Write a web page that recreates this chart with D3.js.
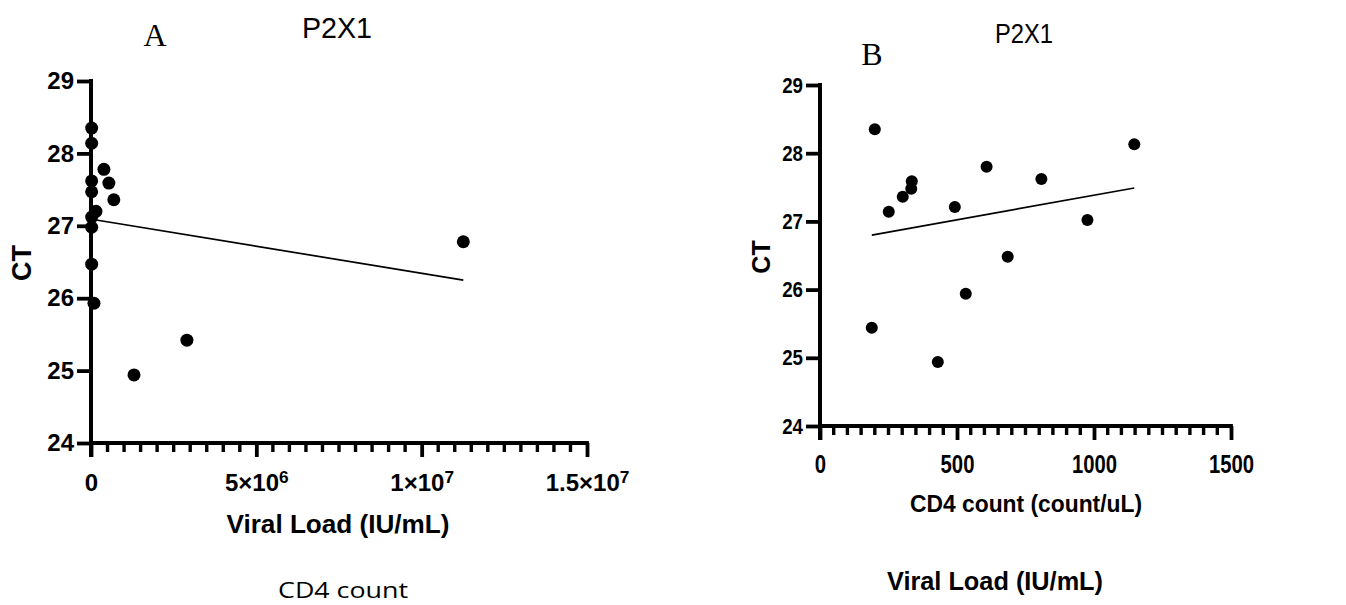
<!DOCTYPE html>
<html><head><meta charset="utf-8">
<script src="https://cdn.jsdelivr.net/npm/d3@7"></script>
<style>
body{margin:0;background:#fff;}
svg{display:block;}
</style></head>
<body>
<svg id="chart" width="1346" height="605"></svg>
<script>
// ---- Data ----
const viralLoadA = [2e4, 2e4, 3.9e5, 2e4, 5.4e5, 2e4, 6.9e5, 1.5e5, 2e4, 2e4, 2e4, 9e4, 1.3e6, 2.9e6, 1.126e7];
const ctA        = [28.35, 28.14, 27.78, 27.62, 27.59, 27.47, 27.36, 27.2, 27.12, 26.98, 26.47, 25.93, 24.94, 25.42, 26.78];
const fitAX = [2e4, 1.126e7];
const fitAY = [27.09, 26.25];
const xTicksA = [0, 5e6, 1e7, 1.5e7];
const xTickLabelsA = ["0", "5×10|6", "1×10|7", "1.5×10|7"];

const cd4B  = [200, 1147, 608, 808, 335, 333, 302, 251, 492, 976, 685, 532, 189, 430];
const ctB   = [28.35, 28.13, 27.8, 27.62, 27.59, 27.48, 27.36, 27.14, 27.21, 27.02, 26.48, 25.94, 25.44, 24.94];
const fitBX = [189, 1147];
const fitBY = [26.8, 27.49];
const xTicksB = [0, 500, 1000, 1500];
const xTickLabelsB = ["0", "500", "1000", "1500"];

const yTicks = [24, 25, 26, 27, 28, 29];

const svg = d3.select("#chart");
const BOLD = "'Liberation Sans', Arial, Helvetica, sans-serif";

function panel(cfg) {
  const g = svg.append("g");
  const x = d3.scaleLinear().domain(cfg.xDomain).range(cfg.xRange);
  const y = d3.scaleLinear().domain([24, 29]).range(cfg.yRange);
  const x0 = cfg.xRange[0], y0 = cfg.yRange[0];
  const AX_W = 4, TICK_W = 3.8, MINOR_W = 3.4;

  // minor x ticks (drawn from the scale)
  const nMinor = Math.round((cfg.xDomain[1] - cfg.xDomain[0]) / cfg.minorStep);
  const minor = d3.range(0, nMinor + 1).map(i => cfg.xDomain[0] + i * cfg.minorStep)
    .filter(v => !cfg.xTicks.some(t => Math.abs(t - v) < cfg.minorStep / 10));
  g.append("g").selectAll("line").data(minor).enter().append("line")
    .attr("x1", d => x(d)).attr("x2", d => x(d))
    .attr("y1", y0).attr("y2", y0 + cfg.minorLen)
    .attr("stroke", "#000").attr("stroke-width", MINOR_W);

  // major x axis
  const xa = g.append("g").attr("transform", `translate(0,${y0})`)
    .call(d3.axisBottom(x).tickValues(cfg.xTicks).tickSize(cfg.majorLen).tickSizeOuter(0).tickPadding(cfg.xPad).tickFormat(""));
  xa.select(".domain").attr("stroke", "#000").attr("stroke-width", AX_W)
    .attr("d", `M${x0 - 2},0H${cfg.xRange[1] + 1.9}`);
  xa.selectAll(".tick line").attr("stroke", "#000").attr("stroke-width", TICK_W);
  xa.selectAll(".tick text").each(function(d, i) {
    const t = d3.select(this)
      .attr("font-family", cfg.tickFont).attr("font-weight", "bold")
      .attr("font-size", cfg.xTickSize).attr("fill", "#000");
    const parts = cfg.xLabels[i].split("|");
    t.append("tspan").text(parts[0]);
    if (parts[1]) t.append("tspan").attr("dy", "-0.45em").attr("font-size", cfg.xTickSize * 0.72).text(parts[1]);
    if (cfg.xTickScale) t.attr("transform", `scale(${cfg.xTickScale},1)`);
  });

  // y axis
  const ya = g.append("g").attr("transform", `translate(${x0},0)`)
    .call(d3.axisLeft(y).tickValues(yTicks).tickSize(cfg.majorLen).tickSizeOuter(0).tickPadding(3).tickFormat(d3.format("d")));
  ya.select(".domain").attr("stroke", "#000").attr("stroke-width", AX_W)
    .attr("d", `M0,${cfg.yRange[1] - 1.9}V${y0 + cfg.majorLen}`);
  ya.selectAll(".tick line").attr("stroke", "#000").attr("stroke-width", TICK_W);
  ya.selectAll("text").attr("font-family", cfg.tickFont).attr("font-weight", "bold")
    .attr("font-size", cfg.yTickSize).attr("fill", "#000")
    .attr("transform", cfg.yTickScale ? `translate(${-cfg.majorLen - 3},0) scale(${cfg.yTickScale},1) translate(${cfg.majorLen + 3},0)` : null);

  // regression line
  const lineData = cfg.fitX.map((v, i) => [v, cfg.fitY[i]]);
  g.append("path").datum(lineData)
    .attr("d", d3.line().x(d => x(d[0])).y(d => y(d[1])))
    .attr("stroke", "#000").attr("stroke-width", 1.7).attr("fill", "none");

  // points
  g.selectAll("circle.pt").data(cfg.xs.map((v, i) => [v, cfg.ys[i]])).enter()
    .append("circle").attr("class", "pt")
    .attr("cx", d => x(d[0])).attr("cy", d => y(d[1]))
    .attr("r", cfg.r).attr("fill", "#000");

  // CT label
  g.append("text").attr("transform", `translate(${cfg.ctPos[0]},${cfg.ctPos[1]}) rotate(-90)`)
    .attr("text-anchor", "middle").attr("font-family", BOLD).attr("font-weight", "bold")
    .attr("font-size", cfg.ctSize).attr("fill", "#000").text("CT");

  // x title
  g.append("text").attr("x", cfg.xTitlePos[0]).attr("y", cfg.xTitlePos[1])
    .attr("text-anchor", "middle").attr("font-family", BOLD).attr("font-weight", "bold")
    .attr("font-size", cfg.xTitleSize).attr("fill", "#000")
    .attr("textLength", cfg.xTitleLen).attr("lengthAdjust", "spacingAndGlyphs")
    .text(cfg.xTitle);

  // P2X1 title
  g.append("text").attr("x", cfg.titlePos[0]).attr("y", cfg.titlePos[1])
    .attr("text-anchor", "middle").attr("font-family", "'Liberation Sans', Arial, sans-serif")
    .attr("font-size", cfg.titleSize).attr("fill", "#000")
    .attr("textLength", cfg.titleLen).attr("lengthAdjust", "spacingAndGlyphs")
    .text("P2X1");

  // Panel letter
  g.append("text").attr("x", cfg.letterPos[0]).attr("y", cfg.letterPos[1])
    .attr("text-anchor", "middle").attr("font-family", "'Liberation Serif', 'Times New Roman', serif")
    .attr("font-size", 32).attr("fill", "#000").text(cfg.letter);

  // bottom caption
  g.append("text").attr("x", cfg.capPos[0]).attr("y", cfg.capPos[1])
    .attr("text-anchor", "middle").attr("font-family", cfg.capFont)
    .attr("font-weight", cfg.capWeight).attr("font-size", cfg.capSize).attr("fill", "#000")
    .attr("textLength", cfg.capLen).attr("lengthAdjust", "spacingAndGlyphs")
    .text(cfg.caption);
}

panel({
  xDomain: [0, 1.5e7], xRange: [91, 587], yRange: [443, 81],
  xTicks: xTicksA, xLabels: xTickLabelsA, minorStep: 5e5,
  majorLen: 14, minorLen: 9, xPad: 17,
  tickFont: BOLD, xTickSize: 24, yTickSize: 24,
  xs: viralLoadA, ys: ctA, fitX: fitAX, fitY: fitAY, r: 6.5,
  ctPos: [31, 263], ctSize: 27,
  xTitle: "Viral Load (IU/mL)", xTitlePos: [338, 533], xTitleSize: 25, xTitleLen: 223,
  titlePos: [337, 38], titleSize: 30, titleLen: 70,
  letter: "A", letterPos: [155, 46],
  caption: "CD4 count", capPos: [343, 598], capFont: "'Open Sans', 'Noto Sans', sans-serif",
  capWeight: "normal", capSize: 22, capLen: 130
});

panel({
  xDomain: [0, 1500], xRange: [820, 1231], yRange: [426, 85],
  xTicks: xTicksB, xLabels: xTickLabelsB, minorStep: 50,
  majorLen: 14, minorLen: 9, xPad: 15,
  tickFont: BOLD, xTickSize: 26, yTickSize: 22, xTickScale: 0.78, yTickScale: 0.85,
  xs: cd4B, ys: ctB, fitX: fitBX, fitY: fitBY, r: 6,
  ctPos: [770, 257], ctSize: 25,
  xTitle: "CD4 count (count/uL)", xTitlePos: [1026, 512], xTitleSize: 24, xTitleLen: 232,
  titlePos: [1024, 43], titleSize: 27, titleLen: 58,
  letter: "B", letterPos: [872, 65],
  caption: "Viral Load (IU/mL)", capPos: [995, 590], capFont: BOLD,
  capWeight: "bold", capSize: 25, capLen: 216
});
</script>
</body></html>
